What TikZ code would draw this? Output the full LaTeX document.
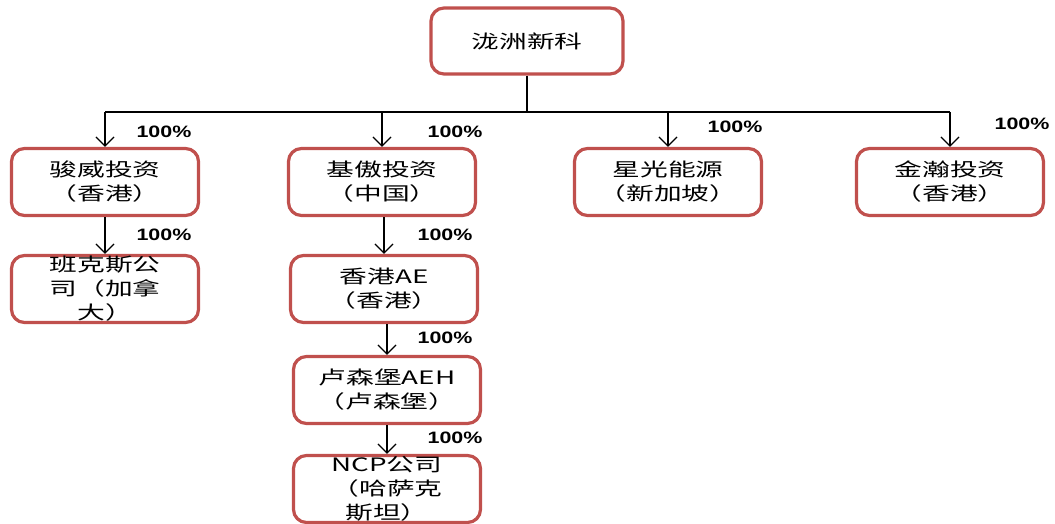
\documentclass[tikz,border=0pt]{standalone}
\usepackage{fontspec}
\usetikzlibrary{arrows.meta}
\newfontfamily\cjk[FakeStretch=1.5]{Noto Sans CJK SC}
\newfontfamily\pctfont[FakeStretch=1.3]{Liberation Sans}
\definecolor{boxred}{HTML}{C0504D}
\tikzset{
  orgbox/.style={draw=boxred, line width=3.2pt, rounded corners=13pt, fill=white,
    minimum width=187pt, minimum height=67pt, inner sep=0pt, align=center,
    font=\cjk\fontsize{18.5}{24}\selectfont},
  link/.style={line width=1.3pt, -{Straight Barb[length=9pt,width=18pt,line width=1.3pt]}},
  trunk/.style={line width=1.3pt},
  pct/.style={font=\pctfont\bfseries\fontsize{16.5}{18}\selectfont, inner sep=0pt}
}
\begin{document}
\begin{tikzpicture}[x=1pt,y=-1pt]
\useasboundingbox (0,0) rectangle (1055,524);
% boxes
\node[orgbox, minimum width=192pt, minimum height=66pt] (top) at (527,41) {泷洲新科};
\node[orgbox] (jw) at (105,182) {骏威投资\\（香港）};
\node[orgbox] (ja) at (382,182) {基傲投资\\（中国）};
\node[orgbox] (xg) at (668,182) {星光能源\\（新加坡）};
\node[orgbox] (jh) at (950,182) {金瀚投资\\（香港）};
\node[orgbox] (bk) at (105,289) {班克斯公\\司（加拿\\大）};
\node[orgbox] (ae) at (384,289) {香港AE\\（香港）};
\node[orgbox] (aeh) at (387,390) {卢森堡AEH\\（卢森堡）};
\node[orgbox] (ncp) at (387,489) {NCP公司\\（哈萨克\\斯坦）};
% connectors
\coordinate (j0) at (527,112);
\coordinate (j1) at (105,112);
\coordinate (j2) at (382,112);
\coordinate (j3) at (668,112);
\coordinate (j4) at (950,112);
\draw[trunk] (top.south) -- (j0);
\draw[trunk] (j1) -- (j4);
\draw[link] (j1) -- (jw.north);
\draw[link] (j2) -- (ja.north);
\draw[link] (j3) -- (xg.north);
\draw[link] (j4) -- (jh.north);
\draw[link] (jw.south) -- (bk.north);
\draw[link] (ja.south -| ae.north) -- (ae.north);
\draw[link] (ae.south -| aeh.north) -- (aeh.north);
\draw[link] (aeh.south) -- (ncp.north);
% labels
\node[pct] (p1) at (164,132) {100\%};
\node[pct] (p2) at (455,132) {100\%};
\node[pct] (p3) at (735,127) {100\%};
\node[pct] (p4) at (1022,124) {100\%};
\node[pct] (p5) at (164,235) {100\%};
\node[pct] (p6) at (445,235) {100\%};
\node[pct] (p7) at (445,338) {100\%};
\node[pct] (p8) at (455,438) {100\%};
\end{tikzpicture}
\end{document}
